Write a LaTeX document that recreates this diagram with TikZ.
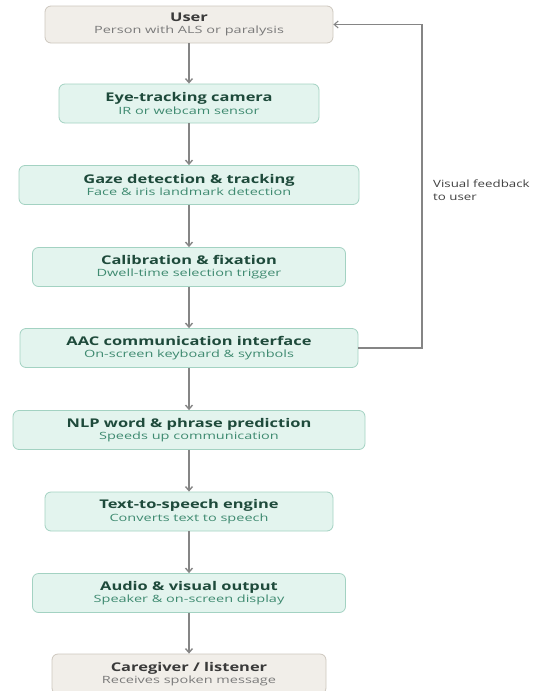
\documentclass[tikz,border=0pt]{standalone}
\usepackage{fontspec}
\setmainfont{Open Sans}
\newfontfamily\ttlfont{Open Sans}[FakeStretch=1.37]
\newfontfamily\subfont{Open Sans}[FakeStretch=1.45]
\newfontfamily\lblfont{Open Sans}[FakeStretch=1.33]
\usetikzlibrary{arrows.meta}
\definecolor{gfill}{HTML}{E3F4EE}
\definecolor{gdraw}{HTML}{A3D2C2}
\definecolor{gtitle}{HTML}{1E4A3B}
\definecolor{gsub}{HTML}{3E8A70}
\definecolor{bfill}{HTML}{F1EEE9}
\definecolor{bdraw}{HTML}{CDC7BE}
\definecolor{btitle}{HTML}{3A3A3A}
\definecolor{bsub}{HTML}{7A7A7A}
\definecolor{arr}{HTML}{858585}
\tikzset{
  box/.style={rounded corners=6pt, line width=0.8pt, minimum height=39pt, inner sep=0pt, align=center},
  gbox/.style={box, fill=gfill, draw=gdraw},
  bbox/.style={box, fill=bfill, draw=bdraw},
  flow/.style={draw=arr, line width=1.4pt, -{Straight Barb[length=4pt,width=7pt]}},
}
\newcommand{\gt}[2]{{\ttlfont\fontsize{12}{15}\selectfont\bfseries\color{gtitle}#1}\\[0.5pt]{\subfont\fontsize{10}{12}\selectfont\color{gsub}#2}}
\newcommand{\bt}[2]{{\ttlfont\fontsize{12}{15}\selectfont\bfseries\color{btitle}#1}\\[0.5pt]{\subfont\fontsize{10}{12}\selectfont\color{bsub}#2}}
\begin{document}
\begin{tikzpicture}[x=1pt,y=-1pt]
\useasboundingbox (0,0) rectangle (553,691);
\node[bbox, minimum width=288pt, minimum height=37pt] (user) at (189,24.5) {\bt{User}{Person with ALS or paralysis}};
\node[gbox, minimum width=260pt] (eye) at (189,103.5) {\gt{Eye-tracking camera}{IR or webcam sensor}};
\node[gbox, minimum width=340pt] (gaze) at (189,185) {\gt{Gaze detection \& tracking}{Face \& iris landmark detection}};
\node[gbox, minimum width=313pt] (cal) at (189,267) {\gt{Calibration \& fixation}{Dwell-time selection trigger}};
\node[gbox, minimum width=338pt] (aac) at (189,348) {\gt{AAC communication interface}{On-screen keyboard \& symbols}};
\node[gbox, minimum width=352pt] (nlp) at (189,430) {\gt{NLP word \& phrase prediction}{Speeds up communication}};
\node[gbox, minimum width=288pt] (tts) at (189,511.5) {\gt{Text-to-speech engine}{Converts text to speech}};
\node[gbox, minimum width=313pt] (audio) at (189,593) {\gt{Audio \& visual output}{Speaker \& on-screen display}};
\node[bbox, minimum width=274pt, minimum height=40pt] (care) at (189,674) {\bt{Caregiver / listener}{Receives spoken message}};
\draw[flow] (user) -- (eye);
\draw[flow] (eye) -- (gaze);
\draw[flow] (gaze) -- (cal);
\draw[flow] (cal) -- (aac);
\draw[flow] (aac) -- (nlp);
\draw[flow] (nlp) -- (tts);
\draw[flow] (tts) -- (audio);
\draw[flow] (audio) -- (care);
\coordinate (fb) at (422,0);
\draw[flow, line width=1.1pt] (aac.east) -| (fb |- user.east) -- (user.east);
\node[anchor=north west, align=left, inner sep=0pt, font=\lblfont\fontsize{10}{12.5}\selectfont, text=black!75] (fbl) at (433,180) {Visual feedback\\to user};
\end{tikzpicture}
\end{document}
